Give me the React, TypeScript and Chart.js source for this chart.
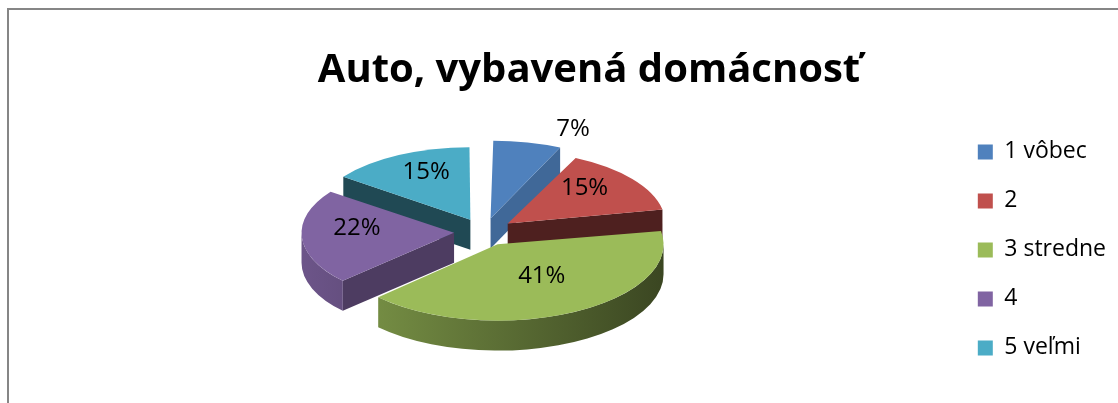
import React, { useEffect, useRef } from 'react';
import { Chart, registerables } from 'chart.js';

Chart.register(...registerables);

// ---- data ----
const categories = ['1 vôbec', '2', '3 stredne', '4', '5 veľmi'];
const shares = [7, 15, 41, 22, 15];
const colors = ['#4F81BD', '#C0504D', '#9BBB59', '#8064A2', '#4BACC6'];
const titleText = 'Auto, vybavená domácnosť';

// ---- view / style constants ----
const CX = 484;
const CY = 232;
const K = 0.46;
const DEPTH = 30;
const RADIUS = 152;
const EXPLODE = 120;
const LABEL_LIFT = 8;
const FONT = "'Open Sans', 'DejaVu Sans', sans-serif";

function shade(hex: string, f: number): string {
  const n = parseInt(hex.slice(1), 16);
  const c = (v: number) => Math.max(0, Math.min(255, Math.round(v * f)));
  return `rgb(${c((n >> 16) & 255)},${c((n >> 8) & 255)},${c(n & 255)})`;
}

function geom(el: any) {
  const o = (el.options.offset || 0) / 4;
  const circ = el.endAngle - el.startAngle;
  const half = (el.startAngle + el.endAngle) / 2;
  const fix = 1 - Math.sin(Math.min(Math.PI, circ));
  const ro = o * fix;
  const R = el.outerRadius + ro;
  const beta = Math.max(0.001, circ * R - ro / Math.PI) / R;
  const ao = (circ - beta) / 2;
  return {
    cx: el.x + Math.cos(half) * o,
    cy: el.y + Math.sin(half) * o,
    R,
    a0: el.startAngle + ao,
    a1: el.endAngle - ao,
  };
}

function faceShade(nx: number, ny: number): number {
  return 0.95 + 0.1 * nx - 0.576 * ny;
}

const pie3d = {
  id: 'pie3d',
  beforeDraw(chart: any) {
    const ctx = chart.ctx;
    ctx.save();
    ctx.fillStyle = '#868686';
    ctx.fillRect(7, 8, 2, chart.height - 8);
    ctx.fillRect(7, 8, chart.width - 7, 2);
    ctx.restore();
  },
  beforeDatasetsDraw(chart: any) {
    const meta = chart.getDatasetMeta(0);
    const els = meta.data;
    const ctx = chart.ctx;
    ctx.save();
    chart.$pie3dSaved = true;
    if (!els.length) return;
    const ox = els[0].x;
    const oy = els[0].y;
    ctx.translate(CX, CY);
    ctx.scale(1, K);
    ctx.translate(-ox, -oy);
    const dc = DEPTH / K;
    const faces: { key: number; draw: () => void }[] = [];
    els.forEach((el: any, i: number) => {
      const g = geom(el);
      const base = colors[i % colors.length];
      const lo = Math.max(g.a0, 0);
      const hi = Math.min(g.a1, Math.PI);
      if (hi > lo) {
        faces.push({
          key: g.cy + g.R * Math.sin((lo + hi) / 2),
          draw: () => {
            ctx.beginPath();
            ctx.arc(g.cx, g.cy, g.R, lo, hi, false);
            ctx.lineTo(g.cx + g.R * Math.cos(hi), g.cy + g.R * Math.sin(hi) + dc);
            ctx.arc(g.cx, g.cy + dc, g.R, hi, lo, true);
            ctx.closePath();
            const grad = ctx.createLinearGradient(ox - RADIUS - 40, 0, ox + RADIUS + 40, 0);
            grad.addColorStop(0, shade(base, 0.86));
            grad.addColorStop(1, shade(base, 0.36));
            ctx.fillStyle = grad;
            ctx.fill();
          },
        });
      }
      const radial = (a: number, nAng: number) => {
        const nx = Math.cos(nAng);
        const ny = Math.sin(nAng);
        faces.push({
          key: g.cy + (g.R / 2) * Math.sin(a),
          draw: () => {
            ctx.beginPath();
            ctx.moveTo(g.cx, g.cy);
            ctx.lineTo(g.cx + g.R * Math.cos(a), g.cy + g.R * Math.sin(a));
            ctx.lineTo(g.cx + g.R * Math.cos(a), g.cy + g.R * Math.sin(a) + dc);
            ctx.lineTo(g.cx, g.cy + dc);
            ctx.closePath();
            ctx.fillStyle = shade(base, faceShade(nx, ny));
            ctx.fill();
          },
        });
      };
      if (Math.cos(g.a0) < 0) radial(g.a0, g.a0 - Math.PI / 2);
      if (Math.cos(g.a1) > 0) radial(g.a1, g.a1 + Math.PI / 2);
    });
    faces.sort((a, b) => a.key - b.key).forEach((f) => f.draw());
  },
  afterDatasetsDraw(chart: any) {
    const ctx = chart.ctx;
    if (chart.$pie3dSaved) {
      ctx.restore();
      chart.$pie3dSaved = false;
    }
    const meta = chart.getDatasetMeta(0);
    const els = meta.data;
    if (!els.length) return;
    const ox = els[0].x;
    const oy = els[0].y;
    const values: number[] = chart.data.datasets[0].data;
    const total = values.reduce((s, v) => s + v, 0);
    ctx.save();
    ctx.fillStyle = '#000';
    ctx.font = `24px ${FONT}`;
    ctx.textAlign = 'center';
    ctx.textBaseline = 'middle';
    els.forEach((el: any, i: number) => {
      const g = geom(el);
      const pct = (values[i] / total) * 100;
      let px: number;
      let py: number;
      let lift = LABEL_LIFT;
      if (pct < 10) {
        px = g.cx + Math.cos(g.a1) * RADIUS * 1.32;
        py = g.cy + Math.sin(g.a1) * RADIUS * 1.32;
        lift = 5;
      } else {
        const mid = (g.a0 + g.a1) / 2;
        px = g.cx + Math.cos(mid) * RADIUS * 0.64;
        py = g.cy + Math.sin(mid) * RADIUS * 0.64;
      }
      const X = CX + (px - ox);
      const Y = CY + K * (py - oy) - lift;
      ctx.fillText(`${Math.round(pct)}%`, X, Y);
    });
    ctx.restore();
  },
};

export default function App() {
  const ref = useRef<HTMLCanvasElement | null>(null);
  useEffect(() => {
    if (!ref.current) return;
    const chart = new Chart(ref.current, {
      type: 'pie',
      data: {
        labels: categories,
        datasets: [
          {
            data: shares,
            backgroundColor: colors,
            borderWidth: 0,
            offset: EXPLODE,
            hoverOffset: 0,
            radius: RADIUS,
            clip: false,
          } as any,
        ],
      },
      options: {
        responsive: false,
        animation: false,
        events: [],
        layout: { padding: { top: 0, right: 2, bottom: 0, left: 62 } },
        plugins: {
          title: {
            display: true,
            text: titleText,
            color: '#000',
            font: { family: FONT, size: 40, weight: 'bold' },
            padding: { top: 47, bottom: 21 },
          },
          legend: {
            position: 'right',
            align: 'start',
            title: {
              display: true,
              text: '',
              font: { family: FONT, size: 12 },
              padding: { top: 100, bottom: 0 },
            },
            labels: {
              boxWidth: 15,
              boxHeight: 15,
              padding: 26,
              color: '#000',
              font: { family: FONT, size: 23 },
            },
          },
          tooltip: { enabled: false },
        },
      } as any,
      plugins: [pie3d],
    });
    return () => chart.destroy();
  }, []);
  return (
    <div style={{ position: 'absolute', left: 0, top: 0, width: 1118, height: 403 }}>
      <canvas ref={ref} width={1118} height={403} />
    </div>
  );
}
